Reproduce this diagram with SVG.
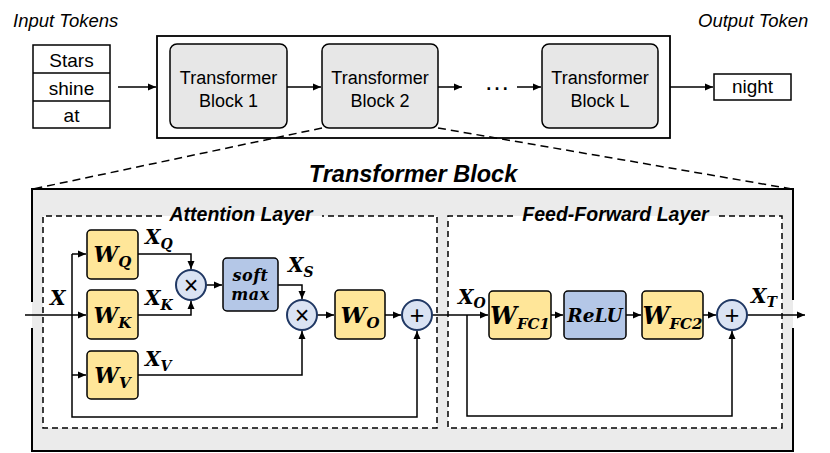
<svg xmlns="http://www.w3.org/2000/svg" width="830" height="453" viewBox="0 0 830 453">
<defs>
<style>
.sans{font-family:"Liberation Sans",Arial,sans-serif;fill:#000}
.it{font-style:italic}
.bi{font-style:italic;font-weight:bold}
.m{font-family:"DejaVu Serif","Liberation Serif",serif;font-weight:bold;font-style:italic;fill:#000}
.op{font-family:"Liberation Sans",Arial,sans-serif;font-size:25px;fill:#000;text-anchor:middle}
.mid{text-anchor:middle}
.tb{fill:#e7e7e7;stroke:#000;stroke-width:1.5}
.tok{fill:#fff;stroke:#000;stroke-width:1.5}
.yb{fill:#ffe699;stroke:#000;stroke-width:1.5}
.bb{fill:#b4c7e7;stroke:#000;stroke-width:1.5}
.ci{fill:#dae3f3;stroke:#203864;stroke-width:2}
.ln{fill:none;stroke:#000;stroke-width:1.5}
.ar{marker-end:url(#ah)}
.ds{fill:none;stroke:#000;stroke-width:1.5;stroke-dasharray:6 4}
.pd{fill:none;stroke:#000;stroke-width:1.5;stroke-dasharray:8 5}
</style>
<marker id="ah" viewBox="0 0 8 8" refX="8" refY="4" markerWidth="8" markerHeight="8" markerUnits="userSpaceOnUse" orient="auto">
<path d="M0,0.5 L8,4 L0,7.5 z" fill="#000"/>
</marker>
</defs>

<!-- top row labels -->
<text class="sans it" x="13" y="27" font-size="18.5">Input Tokens</text>
<text class="sans it" x="698" y="27" font-size="18.5">Output Token</text>

<g id="input-tokens">
<rect class="tok" x="33" y="45" width="77" height="83"/>
<line class="ln" x1="33" y1="73" x2="110" y2="73"/>
<line class="ln" x1="33" y1="101" x2="110" y2="101"/>
<text class="sans mid" x="71.5" y="66.5" font-size="19">Stars</text>
<text class="sans mid" x="71.5" y="94.5" font-size="19">shine</text>
<text class="sans mid" x="71.5" y="121.5" font-size="19">at</text>
</g>

<g id="stack">
<rect x="157" y="36" width="513" height="102" fill="#fff" stroke="#000" stroke-width="1.8"/>
</g>

<g id="block1">
<rect class="tb" x="170" y="44" width="117" height="84" rx="7"/>
<text class="sans mid" x="228.5" y="83.5" font-size="18">Transformer</text>
<text class="sans mid" x="228.5" y="107" font-size="18">Block 1</text>
</g>
<g id="block2">
<rect class="tb" x="322" y="44" width="116" height="84" rx="7"/>
<text class="sans mid" x="380" y="83.5" font-size="18">Transformer</text>
<text class="sans mid" x="380" y="107" font-size="18">Block 2</text>
</g>
<g id="blockL">
<rect class="tb" x="542" y="44" width="116" height="84" rx="7"/>
<text class="sans mid" x="600" y="83.5" font-size="18">Transformer</text>
<text class="sans mid" x="600" y="107" font-size="18">Block L</text>
</g>
<text class="sans mid" x="497" y="90" font-size="26">…</text>

<g id="output-token">
<rect class="tok" x="714" y="74" width="77" height="26"/>
<text class="sans mid" x="752.5" y="93" font-size="19">night</text>
</g>

<!-- transformer block detail -->
<g id="transformer-block">
<rect x="32" y="189" width="761" height="262" fill="#ebebeb"/>
<path d="M32,302 V189 H793 V300 M793,328 V451 H32 V328" fill="none" stroke="#000" stroke-width="2"/>
<text class="sans bi mid" x="413" y="182" font-size="23.5">Transformer Block</text>
</g>

<g id="attention-layer">
<rect x="43" y="216" width="394" height="212" fill="#fff"/>
<path class="ds" d="M162,216 H43 V428 H437 V216 H322"/>
<text class="sans bi mid" x="241" y="221" font-size="19.5">Attention Layer</text>
</g>

<g id="ff-layer">
<rect x="448" y="216" width="334" height="212" fill="#fff"/>
<path class="ds" d="M513,216 H448 V428 H782 V216 H718"/>
<text class="sans bi mid" x="615.5" y="221" font-size="19.5">Feed-Forward Layer</text>
</g>

<!-- connectors -->
<g id="connectors">
<path class="ln ar" d="M118,87 H156"/>
<path class="ln ar" d="M287,87 H321"/>
<path class="ln ar" d="M438,87 H462"/>
<path class="ln ar" d="M517,87 H541"/>
<path class="ln ar" d="M670,87 H713"/>
<path class="pd" d="M322,128 L33,189"/>
<path class="pd" d="M438,128 L792,189"/>

<path class="ln ar" d="M25,315 H86"/>
<path class="ln ar" d="M72,254 V417 H417 V331"/>
<path class="ln ar" d="M72,254 H86"/>
<path class="ln ar" d="M72,375 H86"/>
<path class="ln ar" d="M138,254 H191 V269"/>
<path class="ln ar" d="M138,315 H191 V301"/>
<path class="ln ar" d="M206,285 H222"/>
<path class="ln ar" d="M278,285 H302 V299"/>
<path class="ln ar" d="M138,375 H302 V331"/>
<path class="ln ar" d="M317,315 H334"/>
<path class="ln ar" d="M385,315 H401"/>
<path class="ln ar" d="M432,315 H488"/>
<path class="ln ar" d="M467,315 V416 H732 V331"/>
<path class="ln ar" d="M551,315 H563"/>
<path class="ln ar" d="M626,315 H641"/>
<path class="ln ar" d="M703,315 H716"/>
<path class="ln ar" d="M747,315 H805"/>
</g>

<!-- attention nodes -->
<g id="WQ">
<rect class="yb" x="87" y="230" width="51" height="49" rx="4"/>
<text class="m mid" x="112.5" y="262" font-size="22">W<tspan font-size="15" dy="5">Q</tspan></text>
</g>
<g id="WK">
<rect class="yb" x="87" y="290" width="51" height="49" rx="4"/>
<text class="m mid" x="112.5" y="322.5" font-size="22">W<tspan font-size="15" dy="5">K</tspan></text>
</g>
<g id="WV">
<rect class="yb" x="87" y="351" width="51" height="48" rx="4"/>
<text class="m mid" x="112.5" y="382.5" font-size="22">W<tspan font-size="15" dy="5">V</tspan></text>
</g>
<g id="mul1">
<circle class="ci" cx="191" cy="285" r="15"/>
<text class="op" x="191" y="293.5">×</text>
</g>
<g id="softmax">
<rect class="bb" x="223" y="258" width="55" height="53" rx="4"/>
<text class="m mid" x="250.5" y="280.5" font-size="16" letter-spacing="0.5">soft</text>
<text class="m mid" x="250.5" y="299.5" font-size="16" letter-spacing="0.5">max</text>
</g>
<g id="mul2">
<circle class="ci" cx="302" cy="315" r="15"/>
<text class="op" x="302" y="323.5">×</text>
</g>
<g id="WO">
<rect class="yb" x="335" y="290" width="50" height="49" rx="4"/>
<text class="m mid" x="360" y="322.5" font-size="23">W<tspan font-size="15" dy="5">O</tspan></text>
</g>
<g id="add1">
<circle class="ci" cx="417" cy="315" r="15"/>
<text class="op" x="417" y="323.5">+</text>
</g>

<!-- feed-forward nodes -->
<g id="WFC1">
<rect class="yb" x="489" y="291" width="62" height="48" rx="4"/>
<text class="m mid" x="520" y="323.5" font-size="24">W<tspan font-size="15" dy="5">FC1</tspan></text>
</g>
<g id="relu">
<rect class="bb" x="564" y="291" width="62" height="48" rx="4"/>
<text class="m mid" x="595" y="322" font-size="18.5">ReLU</text>
</g>
<g id="WFC2">
<rect class="yb" x="642" y="291" width="61" height="48" rx="4"/>
<text class="m mid" x="672.5" y="323.5" font-size="24">W<tspan font-size="15" dy="5">FC2</tspan></text>
</g>
<g id="add2">
<circle class="ci" cx="732" cy="315" r="15"/>
<text class="op" x="732" y="323.5">+</text>
</g>

<!-- edge labels -->
<g id="labels">
<text class="m" x="50" y="305" font-size="20">X</text>
<text class="m" x="145" y="244" font-size="20">X<tspan font-size="14" dy="5">Q</tspan></text>
<text class="m" x="145" y="305" font-size="20">X<tspan font-size="14" dy="5">K</tspan></text>
<text class="m" x="145" y="366" font-size="20">X<tspan font-size="14" dy="5">V</tspan></text>
<text class="m" x="288" y="272" font-size="20">X<tspan font-size="14" dy="5">S</tspan></text>
<text class="m" x="458" y="304" font-size="20">X<tspan font-size="14" dy="4">O</tspan></text>
<text class="m" x="751" y="303" font-size="20">X<tspan font-size="14" dy="4">T</tspan></text>
</g>
</svg>
